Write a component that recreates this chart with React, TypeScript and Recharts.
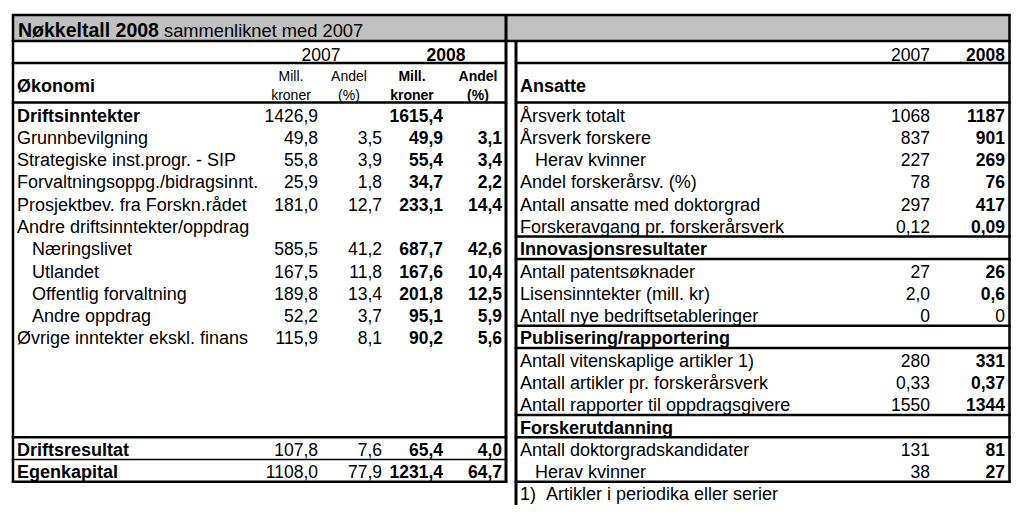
import React from 'react';
import { ScatterChart, Scatter, XAxis, YAxis, ReferenceLine, ReferenceArea } from 'recharts';

const FONT = '"Liberation Sans", Arial, sans-serif';

// ---- texts ----
const titleBold = 'Nøkkeltall 2008';
const titleRest = ' sammenliknet med 2007';
const years = ['2007', '2008'];
const econHeading = 'Økonomi';
const staffHeading = 'Ansatte';
const unitTop = ['Mill.', 'Andel'];
const unitBottom = ['kroner', '(%)'];
const footnote = '1)\u00a0\u00a0Artikler i periodika eller serier';

// ---- left table: Økonomi ----
const econLabels = [
  'Driftsinntekter',
  'Grunnbevilgning',
  'Strategiske inst.progr. - SIP',
  'Forvaltningsoppg./bidragsinnt.',
  'Prosjektbev. fra Forskn.rådet',
  'Andre driftsinntekter/oppdrag',
  'Næringslivet',
  'Utlandet',
  'Offentlig forvaltning',
  'Andre oppdrag',
  'Øvrige inntekter ekskl. finans',
  '',
  '',
  '',
  '',
  'Driftsresultat',
  'Egenkapital',
];
const econIndented = ['Næringslivet', 'Utlandet', 'Offentlig forvaltning', 'Andre oppdrag'];
const econBold = ['Driftsinntekter', 'Driftsresultat', 'Egenkapital'];
const kroner2007 = [1426.9, 49.8, 55.8, 25.9, 181.0, null, 585.5, 167.5, 189.8, 52.2, 115.9, null, null, null, null, 107.8, 1108.0];
const andel2007 = [null, 3.5, 3.9, 1.8, 12.7, null, 41.2, 11.8, 13.4, 3.7, 8.1, null, null, null, null, 7.6, 77.9];
const kroner2008 = [1615.4, 49.9, 55.4, 34.7, 233.1, null, 687.7, 167.6, 201.8, 95.1, 90.2, null, null, null, null, 65.4, 1231.4];
const andel2008 = [null, 3.1, 3.4, 2.2, 14.4, null, 42.6, 10.4, 12.5, 5.9, 5.6, null, null, null, null, 4.0, 64.7];

// ---- right table: Ansatte etc ----
const staffLabels = [
  'Årsverk totalt',
  'Årsverk forskere',
  'Herav kvinner',
  'Andel forskerårsv. (%)',
  'Antall ansatte med doktorgrad',
  'Forskeravgang pr. forskerårsverk',
  'Innovasjonsresultater',
  'Antall patentsøknader',
  'Lisensinntekter (mill. kr)',
  'Antall nye bedriftsetableringer',
  'Publisering/rapportering',
  'Antall vitenskaplige artikler 1)',
  'Antall artikler pr. forskerårsverk',
  'Antall rapporter til oppdragsgivere',
  'Forskerutdanning',
  'Antall doktorgradskandidater',
  'Herav kvinner',
];
const staffSections = ['Innovasjonsresultater', 'Publisering/rapportering', 'Forskerutdanning'];
const staffIndentedRows = [2, 16];
const staff2007 = [1068, 837, 227, 78, 297, 0.12, null, 27, 2.0, 0, null, 280, 0.33, 1550, null, 131, 38];
const staff2008 = [1187, 901, 269, 76, 417, 0.09, null, 26, 0.6, 0, null, 331, 0.37, 1344, null, 81, 27];
const staffDecimals = [0, 0, 0, 0, 0, 2, 0, 0, 1, 0, 0, 0, 2, 0, 0, 0, 0];

// ---- layout ----
const ROW0 = 114;
const ROW_H = 22.29;
const py = (px: number) => (px - ROW0) / ROW_H;
const X = {
  left: 13, midL: 506, midR: 516, right: 1009.5,
  lLabel: 17, lIndent: 32, k07: 318, a07: 382, k08: 443, a08: 502,
  g07: 321, g08: 446, u07k: 291, u07a: 349, u08k: 412, u08a: 478,
  rLabel: 520, rIndent: 535, r07: 930, r08: 1005,
};
const Y = { top: 15, titleBottom: 41, yearLine: 63, headLine: 102.5, footBottom: 505, tableBottom: 483 };
const LABEL_SIZE = 18;
const NUM_SIZE = 17.5;

const fmt = (v: number, d: number) => v.toFixed(d).replace('.', ',');

type Cell = { x: number; y: number; text: string; bold?: boolean; anchor?: string; size?: number };

const leftCells: Cell[] = [];
econLabels.forEach((label, i) => {
  if (!label) return;
  leftCells.push({
    x: econIndented.includes(label) ? X.lIndent : X.lLabel,
    y: i,
    text: label,
    bold: econBold.includes(label),
    anchor: 'start',
    size: LABEL_SIZE,
  });
});
const numCols: [Array<number | null>, number, boolean][] = [
  [kroner2007, X.k07, false],
  [andel2007, X.a07, false],
  [kroner2008, X.k08, true],
  [andel2008, X.a08, true],
];
numCols.forEach(([vals, x, bold]) =>
  vals.forEach((v, i) => {
    if (v === null) return;
    leftCells.push({ x, y: i, text: fmt(v, 1), bold, anchor: 'end' });
  })
);

const rightCells: Cell[] = [];
staffLabels.forEach((label, i) => {
  rightCells.push({
    x: staffIndentedRows.includes(i) ? X.rIndent : X.rLabel,
    y: i,
    text: label,
    bold: staffSections.includes(label),
    anchor: 'start',
    size: LABEL_SIZE,
  });
  const a = staff2007[i];
  const b = staff2008[i];
  if (a !== null) rightCells.push({ x: X.r07, y: i, text: fmt(a, staffDecimals[i]), anchor: 'end' });
  if (b !== null) rightCells.push({ x: X.r08, y: i, text: fmt(b, staffDecimals[i]), bold: b !== 0, anchor: 'end' });
});
rightCells.push({ x: X.rLabel, y: staffLabels.length, text: footnote, anchor: 'start', size: LABEL_SIZE });

const headerCells: Cell[] = [
  { x: X.g07, y: py(53), text: years[0], anchor: 'middle' },
  { x: X.g08, y: py(53), text: years[1], bold: true, anchor: 'middle' },
  { x: X.r07, y: py(53), text: years[0], anchor: 'end' },
  { x: X.r08, y: py(53), text: years[1], bold: true, anchor: 'end' },
  { x: X.lLabel, y: py(84), text: econHeading, bold: true, anchor: 'start', size: 18 },
  { x: X.rLabel, y: py(84), text: staffHeading, bold: true, anchor: 'start', size: 18 },
  { x: X.u07k, y: py(74), text: unitTop[0], anchor: 'middle', size: 14 },
  { x: X.u07k, y: py(93), text: unitBottom[0], anchor: 'middle', size: 14 },
  { x: X.u07a, y: py(74), text: unitTop[1], anchor: 'middle', size: 14 },
  { x: X.u07a, y: py(93), text: unitBottom[1], anchor: 'middle', size: 14 },
  { x: X.u08k, y: py(74), text: unitTop[0], bold: true, anchor: 'middle', size: 14 },
  { x: X.u08k, y: py(93), text: unitBottom[0], bold: true, anchor: 'middle', size: 14 },
  { x: X.u08a, y: py(74), text: unitTop[1], bold: true, anchor: 'middle', size: 14 },
  { x: X.u08a, y: py(93), text: unitBottom[1], bold: true, anchor: 'middle', size: 14 },
];

const titleCell = [{ x: 18, y: py(28), text: titleBold }];

const renderCell = (p: any) => {
  const c: Cell = p.payload;
  return (
    <text
      x={p.cx}
      y={p.cy}
      dy={1.5}
      textAnchor={c.anchor as any}
      dominantBaseline="central"
      fontFamily={FONT}
      fontSize={c.size ?? NUM_SIZE}
      fontWeight={c.bold ? 'bold' : 'normal'}
      fill="#000"
    >
      {c.text}
    </text>
  );
};

const renderTitle = (p: any) => (
  <text x={p.cx} y={p.cy} dy={1.5} dominantBaseline="central" fontFamily={FONT} fill="#000">
    <tspan fontWeight="bold" fontSize={19.5}>{titleBold}</tspan>
    <tspan fontSize={18.3}>{titleRest}</tspan>
  </text>
);

// border segments: [x1, x2, y(row units), width]
const hLines: [number, number, number, number][] = [
  [X.left, X.right, py(Y.top), 2.5],
  [X.left, X.right, py(Y.titleBottom), 2.5],
  [X.left, X.midL, py(Y.yearLine), 2.5],
  [X.midR, X.right, py(Y.yearLine), 2.5],
  [X.left, X.midL, py(Y.headLine), 2.5],
  [X.midR, X.right, py(Y.headLine), 2.5],
  [X.left, X.midL, 14.5, 2.5],
  [X.left, X.midL, 15.5, 1.5],
  [X.left, X.midL, 16.5, 2.5],
  [X.midR, X.right, 16.5, 2.5],
];
staffSections.forEach((s) => {
  const i = staffLabels.indexOf(s);
  hLines.push([X.midR, X.right, i - 0.5, 2.5]);
  hLines.push([X.midR, X.right, i + 0.5, 2.5]);
});
// [x, y1, y2, width]
const vLines: [number, number, number, number][] = [
  [X.left, py(Y.top), py(Y.tableBottom), 2.5],
  [X.right, py(Y.top), py(Y.tableBottom), 2.5],
  [X.midL, py(Y.top), py(Y.tableBottom), 3],
  [X.midR, py(Y.titleBottom), py(Y.footBottom), 3],
];

export default function App() {
  return (
    <div style={{ position: 'absolute', left: 0, top: 0, width: 1026, height: 521, background: '#fff' }}>
      <ScatterChart width={1026} height={521} margin={{ top: 0, right: 0, bottom: 0, left: 0 }}>
        <XAxis type="number" dataKey="x" domain={[0, 1026]} hide allowDataOverflow />
        <YAxis type="number" dataKey="y" domain={[py(0), py(521)]} reversed hide width={0} allowDataOverflow />
        <ReferenceArea
          x1={X.left}
          x2={X.right}
          y1={py(Y.top)}
          y2={py(Y.titleBottom)}
          fill="#c0c0c0"
          fillOpacity={1}
          stroke="none"
          ifOverflow="visible"
        />
        {hLines.map(([x1, x2, y, w], i) => (
          <ReferenceLine
            key={`h${i}`}
            segment={[{ x: x1 - 1.2, y }, { x: x2 + 1.2, y }]}
            stroke="#000"
            strokeWidth={w}
            ifOverflow="visible"
          />
        ))}
        {vLines.map(([x, y1, y2, w], i) => (
          <ReferenceLine
            key={`v${i}`}
            segment={[{ x, y: y1 }, { x, y: y2 }]}
            stroke="#000"
            strokeWidth={w}
            ifOverflow="visible"
          />
        ))}
        <Scatter data={titleCell} shape={renderTitle} isAnimationActive={false} />
        <Scatter data={headerCells} shape={renderCell} isAnimationActive={false} />
        <Scatter data={leftCells} shape={renderCell} isAnimationActive={false} />
        <Scatter data={rightCells} shape={renderCell} isAnimationActive={false} />
      </ScatterChart>
    </div>
  );
}
